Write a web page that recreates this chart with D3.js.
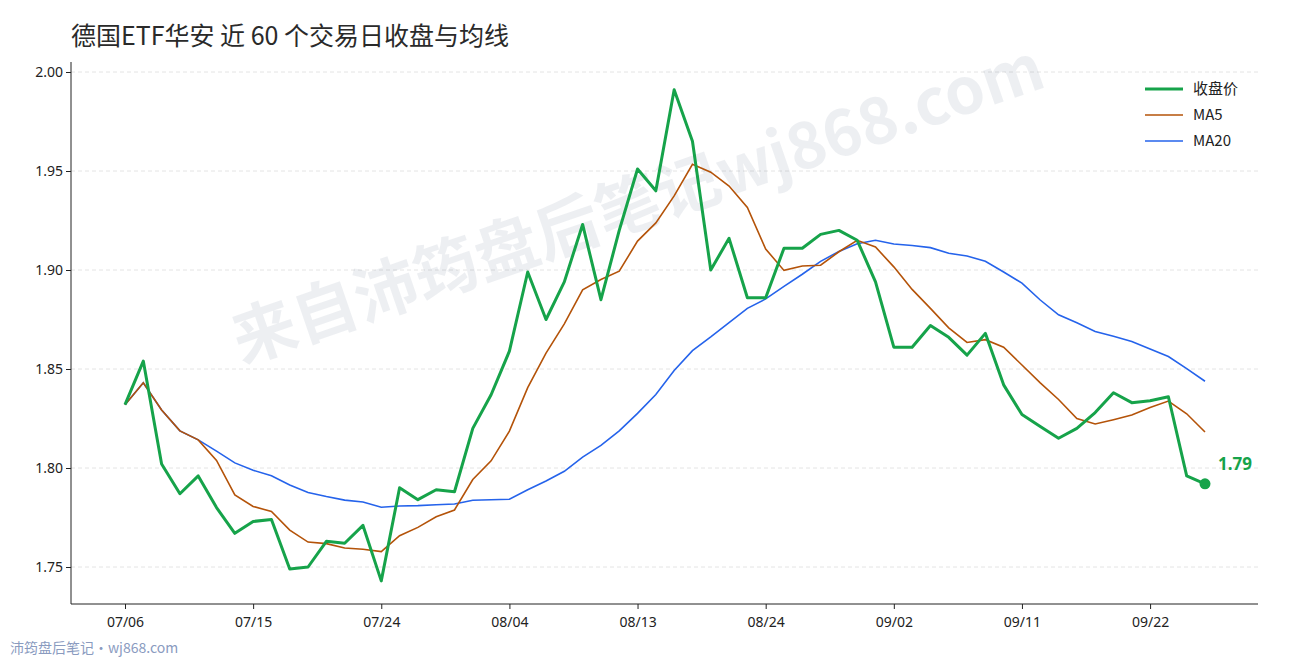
<!DOCTYPE html><html><head><meta charset="utf-8">
<script src="https://cdn.jsdelivr.net/npm/d3@7"></script>
<style>body{margin:0;background:#fff}svg{font-family:"Noto Sans CJK SC","Noto Sans",sans-serif}</style></head><body>
<svg id="c" width="1290" height="660"></svg>
<script>
const title = "德国ETF华安 近 60 个交易日收盘与均线";
const tickLabels = ["07/06","07/15","07/24","08/04","08/13","08/24","09/02","09/11","09/22"];
const tickIdx = [0,7,14,21,28,35,42,49,56];
const yTicks = [1.75,1.80,1.85,1.90,1.95,2.00];
const close = [1.832,1.854,1.802,1.787,1.796,1.780,1.767,1.773,1.774,1.749,
1.750,1.763,1.762,1.771,1.743,1.790,1.784,1.789,1.788,1.820,
1.837,1.859,1.899,1.875,1.894,1.923,1.885,1.920,1.951,1.940,
1.991,1.965,1.900,1.916,1.886,1.886,1.911,1.911,1.918,1.920,
1.915,1.894,1.861,1.861,1.872,1.866,1.857,1.868,1.842,1.827,
1.821,1.815,1.820,1.828,1.838,1.833,1.834,1.836,1.796,1.792];
const ma = n => close.map((d,i)=>{const s=close.slice(Math.max(0,i-n+1),i+1);return d3.mean(s);});
const ma5 = ma(5), ma20 = ma(20);

const svg = d3.select("#c");
const x = d3.scaleLinear().domain([0,59]).range([125,1205]);
const y = d3.scaleLinear().domain([1.75,2.00]).range([567,72]);
const L=71,R=1258,T=62,B=604;

svg.append("g").selectAll("line").data(yTicks).join("line")
 .attr("x1",L).attr("x2",R).attr("y1",d=>y(d)).attr("y2",d=>y(d))
 .attr("stroke","#ddd").attr("stroke-dasharray","4,3").attr("stroke-width",0.8);

svg.append("text").attr("x",645).attr("y",225).attr("text-anchor","middle")
 .attr("transform","rotate(-19,645,225)").attr("font-size",64).attr("font-weight","bold")
 .attr("fill","#1f2d5a").attr("fill-opacity",0.08).text("来自沛筠盘后笔记wj868.com");

const yAx = svg.append("g").attr("transform",`translate(${L},0)`)
 .call(d3.axisLeft(y).tickValues(yTicks).tickFormat(d3.format(".2f")).tickSize(5).tickSizeOuter(0));
yAx.select(".domain").attr("d",`M0,${T}V${B}`);
const xAx = svg.append("g").attr("transform",`translate(0,${B})`)
 .call(d3.axisBottom(x).tickValues(tickIdx).tickFormat((d,i)=>tickLabels[i]).tickSize(5).tickSizeOuter(0));
xAx.select(".domain").attr("d",`M${L},0H${R}`);
svg.selectAll(".tick text").attr("font-size",14).attr("fill","#222").style("font-family","'Noto Sans',sans-serif");
xAx.selectAll(".tick text").attr("dy","1.1em");
svg.selectAll(".domain,.tick line").attr("stroke","#222");

const line = d3.line().x((d,i)=>x(i)).y(d=>y(d));
svg.append("path").datum(ma20).attr("d",line).attr("fill","none").attr("stroke","#2563eb").attr("stroke-width",1.6);
svg.append("path").datum(ma5).attr("d",line).attr("fill","none").attr("stroke","#b45309").attr("stroke-width",1.6);
svg.append("path").datum(close).attr("d",line).attr("fill","none").attr("stroke","#16a34a").attr("stroke-width",3).attr("stroke-linejoin","round");
svg.append("circle").attr("cx",x(59)).attr("cy",y(close[59])).attr("r",5.5).attr("fill","#16a34a");
svg.append("text").attr("x",x(59)+13).attr("y",y(close[59])-14).attr("font-size",17).attr("font-weight","bold")
 .attr("fill","#16a34a").style("font-family","'Noto Sans',sans-serif").text(d3.format(".2f")(close[59]));

const leg=[["收盘价","#16a34a",3],["MA5","#b45309",1.6],["MA20","#2563eb",1.6]];
leg.forEach((l,i)=>{const yy=89+i*26;
 svg.append("line").attr("x1",1145).attr("x2",1183).attr("y1",yy).attr("y2",yy).attr("stroke",l[1]).attr("stroke-width",l[2]);
 svg.append("text").attr("x",1193).attr("y",yy+5).attr("font-size",15).attr("fill","#222").text(l[0]);});

svg.append("text").attr("x",71).attr("y",45).attr("font-size",25).attr("fill","#2a2a2a").text(title);
svg.append("text").attr("x",10).attr("y",653).attr("font-size",14).attr("fill","#8a9bbf").text("沛筠盘后笔记·wj868.com");
</script></body></html>
